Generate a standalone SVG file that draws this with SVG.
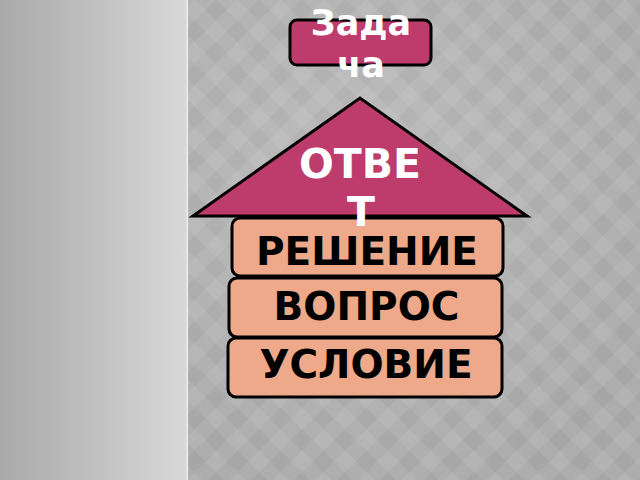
<svg xmlns="http://www.w3.org/2000/svg" width="640" height="480" viewBox="0 0 640 480">
<defs>
<linearGradient id="leftBg" x1="0" y1="0" x2="1" y2="0">
<stop offset="0" stop-color="#a9a9a9"/>
<stop offset="1" stop-color="#d8d8d8"/>
</linearGradient>
<pattern id="diam" patternUnits="userSpaceOnUse" x="-9.75" y="-0.75" width="43" height="43">
<rect width="43" height="43" fill="#adadad"/>
<path d="M10.75 0 L21.5 10.75 L10.75 21.5 L0 10.75 Z M32.25 21.5 L43 32.25 L32.25 43 L21.5 32.25 Z" fill="#a6a6a6"/>
<path d="M32.25 0 L43 10.75 L32.25 21.5 L21.5 10.75 Z M10.75 21.5 L21.5 32.25 L10.75 43 L0 32.25 Z" fill="#b3b3b3"/>
</pattern>
<radialGradient id="glow" cx="360" cy="170" r="330" gradientUnits="userSpaceOnUse">
<stop offset="0" stop-color="#ffffff" stop-opacity="0.2"/>
<stop offset="1" stop-color="#ffffff" stop-opacity="0"/>
</radialGradient>
<style>
.mag{fill:#bd3c6c;stroke:#000;stroke-width:3}
.box{fill:#eda98a;stroke:#000;stroke-width:3}
.wt{fill:#fff;font-family:"DejaVu Sans",sans-serif;font-weight:bold;text-anchor:middle}
.bt{fill:#000;font-family:"DejaVu Sans",sans-serif;font-weight:bold;text-anchor:middle;font-size:39px}
</style>
</defs>
<rect x="0" y="0" width="640" height="480" fill="url(#diam)"/>
<rect x="188" y="0" width="452" height="480" fill="url(#glow)"/>
<rect x="0" y="0" width="187" height="480" fill="url(#leftBg)"/>
<rect x="186.5" y="0" width="1.6" height="480" fill="#ececec"/>
<g id="connectors"/>
<g id="title">
<rect class="mag" x="290" y="20" width="141" height="45" rx="7"/>
<text class="wt" x="361" y="35" font-size="35">Зада</text>
<text class="wt" x="361" y="77" font-size="35">ча</text>
</g>
<g id="usloviye">
<rect class="box" x="228" y="338" width="274" height="59" rx="8"/>
<text class="bt" x="366" y="378">УСЛОВИЕ</text>
</g>
<g id="vopros">
<rect class="box" x="229" y="278" width="273" height="59" rx="8"/>
<text class="bt" x="366.5" y="320">ВОПРОС</text>
</g>
<g id="resheniye">
<rect class="box" x="232" y="218" width="271" height="58" rx="8"/>
<text class="bt" x="367" y="265">РЕШЕНИЕ</text>
</g>
<g id="otvet">
<polygon class="mag" points="193,216 360,98 527,216"/>
<text class="wt" x="360" y="178" font-size="41">ОТВЕ</text>
<text class="wt" x="361" y="226" font-size="41">Т</text>
</g>
</svg>
